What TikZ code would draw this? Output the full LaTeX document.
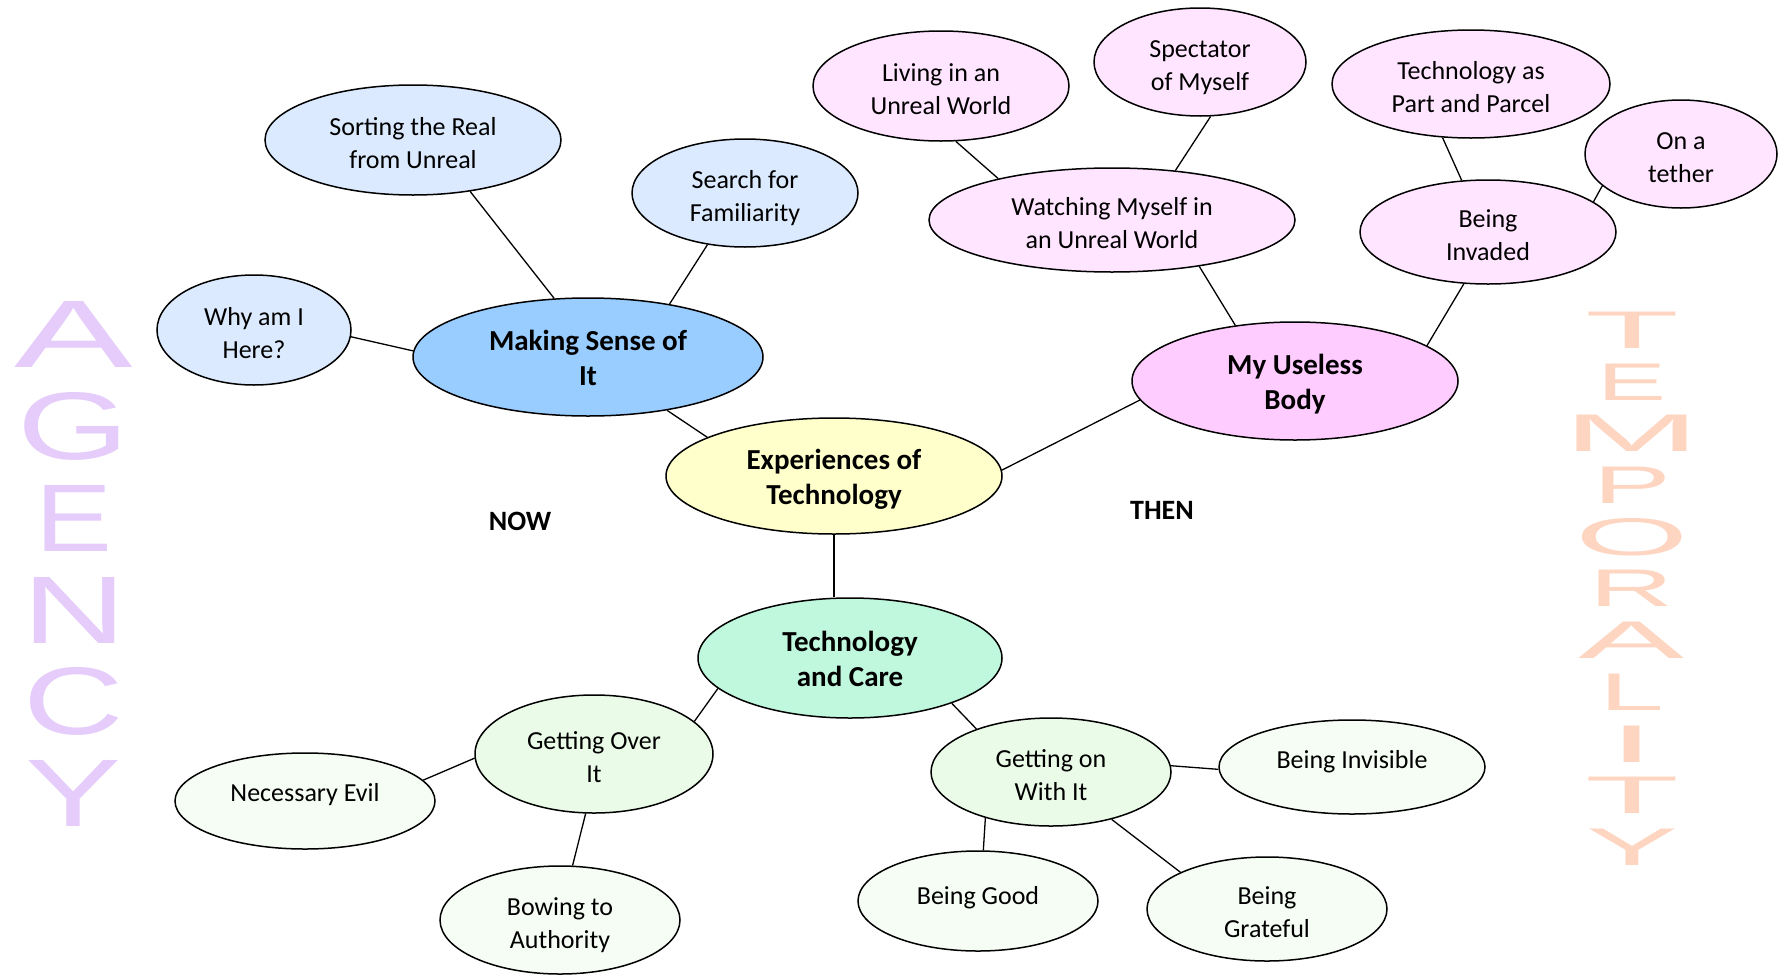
\documentclass[tikz,border=0pt]{standalone}
\usepackage{fontspec}
\setmainfont{Carlito}
\newfontfamily\widefont{Liberation Sans}
\usetikzlibrary{shapes.geometric}
\definecolor{mainblue}{HTML}{99CCFF}
\definecolor{lightblue}{HTML}{DBEAFE}
\definecolor{mainyellow}{HTML}{FFFFCC}
\definecolor{mainpink}{HTML}{FFCCFF}
\definecolor{lightpink}{HTML}{FFE5FF}
\definecolor{maingreen}{HTML}{C0F8DE}
\definecolor{midgreen}{HTML}{EAFCE8}
\definecolor{leafgreen}{HTML}{F6FDF4}
\definecolor{agencycol}{HTML}{E5CCFA}
\definecolor{tempcol}{HTML}{FDD5C0}
% two-line labels: fixed line boxes, ink shifted down a little
\newcommand\twol[1]{\raisebox{-5.4bp}[\height][\depth]{\begin{tabular}{@{}c@{}}#1\end{tabular}}}
\newcommand\twob[1]{\raisebox{-4bp}[\height][\depth]{\begin{tabular}{@{}c@{}}#1\end{tabular}}}
\newcommand\onel[2]{\raisebox{#1}[0pt][0pt]{#2}}
\tikzset{
  bubble/.style={ellipse, draw=black, line width=1.5bp, inner sep=0pt,
    font=\fontsize{26bp}{33bp}\selectfont},
  hub/.style={bubble, font=\fontsize{29bp}{35.5bp}\selectfont\bfseries},
  sz/.style 2 args={minimum width=2*#1 bp, minimum height=2*#2 bp},
  link/.style={draw=black, line width=1.3bp},
  agencyletter/.style={anchor=base, inner sep=0pt, text=agencycol,
    font=\fontsize{96bp}{96bp}\selectfont\widefont},
  templetter/.style={anchor=base, inner sep=0pt, text=tempcol,
    font=\fontsize{53bp}{53bp}\selectfont\widefont},
  sidelabel/.style={inner sep=0pt, font=\fontsize{28bp}{34bp}\selectfont\bfseries}
}
\newcommand\wl[2]{\scalebox{#1}[1]{#2}}
\begin{document}
\begin{tikzpicture}[x=1bp, y=-1bp]
\useasboundingbox[fill=white] (0,0) rectangle (1789,975);

% vertical words
\node[agencyletter] (ag1) at (74,367) {\wl{1.85}{A}};
\node[agencyletter] (ag2) at (74,459) {\wl{1.5}{G}};
\node[agencyletter] (ag3) at (74,551) {\wl{1.2}{E}};
\node[agencyletter] (ag4) at (74,643) {\wl{1.5}{N}};
\node[agencyletter] (ag5) at (74,734) {\wl{1.45}{C}};
\node[agencyletter] (ag6) at (74,826) {\wl{1.5}{Y}};

\node[templetter] (tp1) at (1632,348) {\wl{2.9}{T}};
\node[templetter] (tp2) at (1632,400) {\wl{1.95}{E}};
\node[templetter] (tp3) at (1632,451) {\wl{3.1}{M}};
\node[templetter] (tp4) at (1632,503) {\wl{2.2}{P}};
\node[templetter] (tp5) at (1632,555) {\wl{2.75}{O}};
\node[templetter] (tp6) at (1632,606) {\wl{2.2}{R}};
\node[templetter] (tp7) at (1632,658) {\wl{3.0}{A}};
\node[templetter] (tp8) at (1632,710) {\wl{2.2}{L}};
\node[templetter] (tp9) at (1632,762) {\wl{3.2}{I}};
\node[templetter] (tp10) at (1632,813) {\wl{2.9}{T}};
\node[templetter] (tp11) at (1632,865) {\wl{2.6}{Y}};

\node[sidelabel] (now) at (520,521) {NOW};
\node[sidelabel] (then) at (1162,510) {THEN};

% hubs
\node[hub, fill=mainblue, sz={175}{59}] (making) at (588,357) {\twob{Making Sense of\\It}};
\node[hub, fill=mainyellow, sz={168}{58}] (exp) at (834,476) {\twob{Experiences of\\Technology}};
\node[hub, fill=mainpink, sz={163}{59}] (body) at (1295,381) {\twob{My Useless\\Body}};
\node[hub, fill=maingreen, sz={152}{60}] (care) at (850,658) {\twob{Technology\\and Care}};

% blue branch
\node[bubble, fill=lightblue, sz={148}{55}] (sort) at (413,140) {\twol{Sorting the Real\\from Unreal}};
\node[bubble, fill=lightblue, sz={113}{54}] (search) at (745,193) {\twol{Search for\\Familiarity}};
\node[bubble, fill=lightblue, sz={97}{55}] (why) at (254,330) {\twol{Why am I\\Here?}};

% pink branch
\node[bubble, fill=lightpink, sz={128}{55}] (living) at (941,86) {\twol{Living in an\\Unreal World}};
\node[bubble, fill=lightpink, sz={106}{54}] (spect) at (1200,62) {\twol{Spectator\\of Myself}};
\node[bubble, fill=lightpink, sz={183}{52}] (watch) at (1112,220) {\twol{Watching Myself in\\an Unreal World}};
\node[bubble, fill=lightpink, sz={139}{54}] (techpart) at (1471,84) {\twol{Technology as\\Part and Parcel}};
\node[bubble, fill=lightpink, sz={96}{54}] (tether) at (1681,154) {\twol{On a\\tether}};
\node[bubble, fill=lightpink, sz={128}{52}] (invaded) at (1488,232) {\twol{Being\\Invaded}};

% green branch
\node[bubble, fill=midgreen, sz={119}{59}] (over) at (594,754) {\twol{Getting Over\\It}};
\node[bubble, fill=leafgreen, sz={130}{48}] (evil) at (305,801) {\onel{0bp}{Necessary Evil}};
\node[bubble, fill=leafgreen, sz={120}{54}] (bow) at (560,920) {\twol{Bowing to\\Authority}};
\node[bubble, fill=midgreen, sz={120}{54}] (geton) at (1051,772) {\twol{Getting on\\With It}};
\node[bubble, fill=leafgreen, sz={133}{47}] (invis) at (1352,767) {\onel{-1bp}{Being Invisible}};
\node[bubble, fill=leafgreen, sz={120}{50}] (good) at (978,901) {\onel{-3bp}{Being Good}};
\node[bubble, fill=leafgreen, sz={120}{52}] (grate) at (1267,909) {\twol{Being\\Grateful}};

% connectors
\draw[link] (sort.318) -- (making.120);
\draw[link] (search.234) -- (making.33.5);
\draw[link] (why.356) -- (making.178);
\draw[link] (making.326) -- (exp.163);
\draw[link] (exp.2) -- (body.187);
\draw[link] (living.285) -- (watch.160);
\draw[link] (spect.281) -- (watch.38);
\draw[link] (watch.332) -- (body.137);
\draw[link] (techpart.242) -- (invaded.117);
\draw[link] (tether.202) -- (invaded.16);
\draw[link] (invaded.245) -- (body.15.5);
\draw[link] (exp.south) -- (exp.south |- care.north);
\draw[link] (care.193) -- (over.18);
\draw[link] (care.336) -- (geton.150);
\draw[link] (over.182) -- (evil.10);
\draw[link] (over.262) -- (bow.77);
\draw[link] (geton.3) -- (invis.181);
\draw[link] (geton.215) -- (good.84);
\draw[link] (geton.322) -- (grate.157);
\end{tikzpicture}
\end{document}
